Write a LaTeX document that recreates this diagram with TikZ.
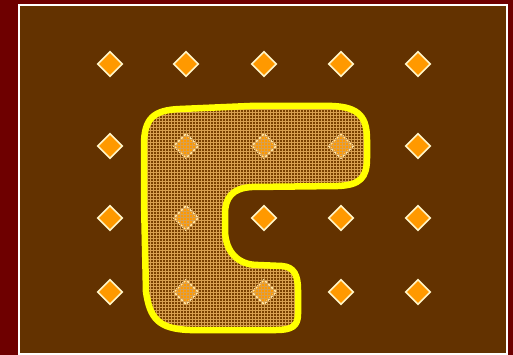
\documentclass[tikz,border=0pt]{standalone}
\usetikzlibrary{shapes.geometric,patterns}
\definecolor{bgred}{HTML}{6E0000}
\definecolor{bgbrown}{HTML}{633200}
\definecolor{dorange}{HTML}{FF9900}
\definecolor{dedge}{HTML}{FFF5C8}
\definecolor{blobyel}{HTML}{FFFF00}
\definecolor{gridcol}{HTML}{D8A050}
\tikzset{
  dia/.style={diamond, aspect=1, inner sep=0pt, minimum width=25pt, minimum height=25pt,
    fill=dorange, draw=dedge, line width=1.6pt},
}
\newcommand{\blobpath}{(144,200) -- (144,145) .. controls (144,118) and (154,110) .. (180,109)
  -- (250,106) -- (332,106) .. controls (360,107) and (367,118) .. (367,140)
  -- (367,158) .. controls (367,178) and (360,185) .. (338,186)
  -- (252,187) .. controls (232,188) and (225,198) .. (225,214)
  -- (225,232) .. controls (226,252) and (238,265) .. (258,265)
  -- (282,266) .. controls (294,267) and (298,275) .. (298,290)
  -- (298,314) .. controls (298,326) and (292,330) .. (276,330)
  -- (190,330) .. controls (158,329) and (150,318) .. (146,292) -- cycle}
\begin{document}
\begin{tikzpicture}[x=1pt,y=-1pt]
\useasboundingbox (0,0) rectangle (513,355);
\fill[bgred] (0,0) rectangle (513,355);
\fill[bgbrown] (18.5,5.5) rectangle (506.5,354);
\draw[white, line width=2pt] (18.5,5.5) rectangle (506.5,354);
\foreach \x [count=\i] in {110,186,264,341,418}{
  \foreach \y [count=\j] in {64,146,218,292}{
    \node[dia] (d\i\j) at (\x,\y) {};
  }
}
\fill[dorange, fill opacity=0.15] \blobpath;
\fill[pattern=grid, pattern color=gridcol, fill opacity=0.4] \blobpath;
\draw[blobyel, line width=6.5pt, line join=round] \blobpath;
\end{tikzpicture}
\end{document}
